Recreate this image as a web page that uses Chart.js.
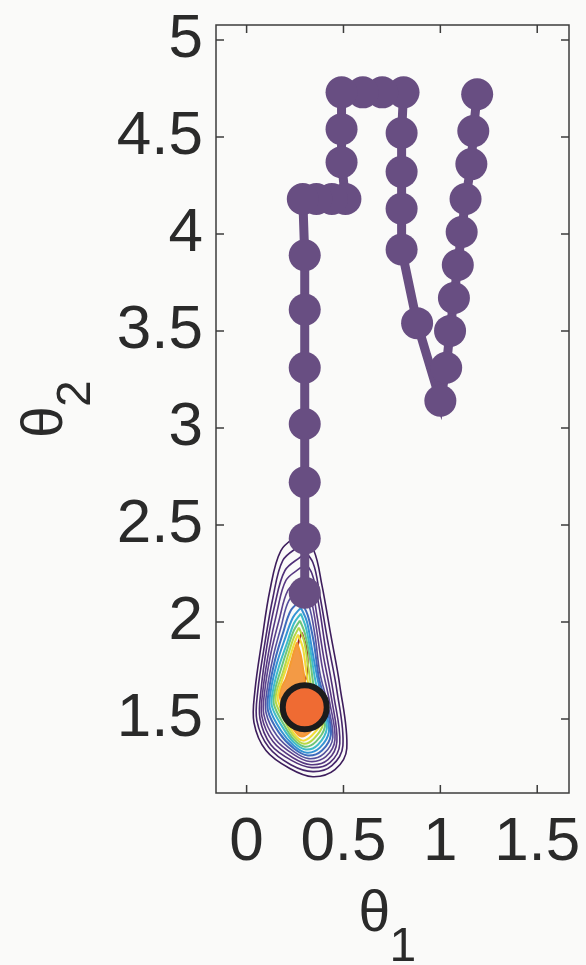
<!DOCTYPE html>
<html>
<head>
<meta charset="utf-8">
<script src="https://cdn.jsdelivr.net/npm/chart.js@4.4.1/dist/chart.umd.min.js"></script>
<style>
  html, body { margin: 0; padding: 0; background: #fafaf9; overflow: hidden; }
  canvas { display: block; }
</style>
</head>
<body>
<canvas id="c" width="586" height="965"></canvas>
<script>
// Axis limits and tick values
const xRange = [-0.158, 1.664];
const yRange = [1.118, 5.077];
const xTicks = [0, 0.5, 1, 1.5];
const yTicks = [1.5, 2, 2.5, 3, 3.5, 4, 4.5, 5];

// Sampler trajectory (theta1, theta2)
const pathTheta1 = [1.19, 1.17, 1.16, 1.13, 1.11, 1.09, 1.07, 1.05, 1.03, 1.00,
                    0.88, 0.80, 0.80, 0.80, 0.80, 0.81, 0.70, 0.60, 0.49, 0.49,
                    0.49, 0.51, 0.44, 0.36, 0.29, 0.30, 0.30, 0.30, 0.30, 0.30,
                    0.30, 0.30];
const pathTheta2 = [4.72, 4.53, 4.36, 4.18, 4.01, 3.84, 3.67, 3.50, 3.31, 3.14,
                    3.54, 3.92, 4.13, 4.32, 4.52, 4.73, 4.73, 4.73, 4.73, 4.54,
                    4.37, 4.18, 4.18, 4.18, 4.18, 3.89, 3.61, 3.31, 3.02, 2.72,
                    2.43, 2.15];

// Posterior mode
const modeTheta1 = [0.30];
const modeTheta2 = [1.56];

// Posterior density contours, outermost first
const contourTheta1 = [
  [0.275,0.347,0.389,0.435,0.481,0.517,0.456,0.342,0.223,0.100,0.038,0.043,0.079,0.120,0.177],
  [0.275,0.342,0.378,0.420,0.466,0.497,0.440,0.342,0.228,0.115,0.053,0.058,0.094,0.136,0.187],
  [0.280,0.337,0.373,0.409,0.450,0.481,0.430,0.337,0.234,0.125,0.069,0.074,0.105,0.146,0.198],
  [0.280,0.332,0.363,0.399,0.440,0.466,0.420,0.332,0.239,0.136,0.079,0.084,0.115,0.156,0.203],
  [0.280,0.327,0.358,0.389,0.430,0.456,0.409,0.327,0.244,0.146,0.089,0.094,0.125,0.167,0.213],
  [0.280,0.322,0.353,0.378,0.420,0.445,0.399,0.322,0.244,0.156,0.100,0.105,0.136,0.177,0.218],
  [0.280,0.316,0.347,0.373,0.414,0.435,0.389,0.316,0.244,0.167,0.110,0.115,0.146,0.187,0.228],
  [0.280,0.311,0.337,0.368,0.404,0.425,0.378,0.311,0.244,0.177,0.120,0.125,0.156,0.198,0.239],
  [0.280,0.306,0.332,0.358,0.394,0.414,0.368,0.306,0.244,0.187,0.131,0.136,0.167,0.208,0.244],
  [0.275,0.301,0.327,0.347,0.384,0.404,0.358,0.301,0.244,0.192,0.141,0.146,0.177,0.213,0.244],
  [0.270,0.296,0.316,0.337,0.373,0.394,0.347,0.296,0.244,0.198,0.151,0.156,0.187,0.218,0.244],
  [0.265,0.290,0.306,0.327,0.363,0.384,0.337,0.290,0.244,0.203,0.162,0.167,0.192,0.223,0.244],
  [0.260,0.280,0.296,0.316,0.352,0.368,0.327,0.285,0.244,0.208,0.172,0.177,0.203,0.228,0.244],
  [0.254,0.270,0.285,0.306,0.337,0.352,0.316,0.280,0.244,0.213,0.187,0.192,0.213,0.234,0.244],
  [0.285,0.306,0.316,0.306,0.275,0.254,0.254,0.270]
];
const contourTheta2 = [
  [2.456,2.368,2.188,1.930,1.672,1.347,1.238,1.202,1.244,1.337,1.481,1.646,1.904,2.162,2.368],
  [2.394,2.306,2.136,1.894,1.646,1.362,1.259,1.228,1.264,1.352,1.491,1.646,1.889,2.126,2.317],
  [2.337,2.250,2.085,1.852,1.620,1.372,1.275,1.249,1.285,1.367,1.502,1.646,1.878,2.090,2.265],
  [2.281,2.193,2.033,1.811,1.595,1.383,1.290,1.264,1.300,1.383,1.512,1.646,1.852,2.048,2.214],
  [2.224,2.136,1.981,1.775,1.579,1.393,1.305,1.280,1.316,1.398,1.522,1.646,1.837,2.007,2.162],
  [2.167,2.085,1.930,1.739,1.569,1.404,1.321,1.295,1.331,1.414,1.533,1.646,1.816,1.971,2.110],
  [2.110,2.033,1.894,1.713,1.558,1.419,1.337,1.311,1.347,1.429,1.543,1.646,1.801,1.940,2.059],
  [2.074,2.002,1.863,1.698,1.553,1.434,1.352,1.326,1.362,1.440,1.553,1.646,1.785,1.914,2.023],
  [2.043,1.971,1.837,1.682,1.548,1.450,1.367,1.342,1.378,1.455,1.564,1.646,1.770,1.889,1.992],
  [2.007,1.940,1.811,1.667,1.543,1.460,1.383,1.357,1.393,1.471,1.574,1.646,1.755,1.868,1.956],
  [1.971,1.904,1.785,1.651,1.538,1.471,1.398,1.372,1.409,1.486,1.584,1.646,1.739,1.842,1.920],
  [1.935,1.868,1.760,1.636,1.533,1.481,1.414,1.388,1.424,1.502,1.595,1.646,1.723,1.816,1.883],
  [1.894,1.827,1.729,1.615,1.527,1.491,1.434,1.409,1.445,1.522,1.610,1.656,1.708,1.790,1.847],
  [1.842,1.780,1.698,1.600,1.527,1.502,1.455,1.434,1.466,1.538,1.620,1.667,1.718,1.770,1.811],
  [1.945,1.878,1.790,1.708,1.677,1.739,1.827,1.904]
];

// Styling
const contourColors = ['#3d1d5c','#46266b','#4f2f78','#573882','#5c428d','#56519e','#3e6cbd',
                       '#3594d4','#3fbcc8','#6cc67a','#b6d847','#f1dc36','#f59a30','#e5562a','#9c2222'];
// inner levels are shaded so the peak reads as a solid orange-red core
const contourFills = [null, null, null, null, null, null, null,
                      null, null, null, null, null, '#f39a45', '#e8623a', null];
const pathColor = '#684e82';
const textColor = '#2a2a2a';
const axisColor = '#3c3c3c';
const tickFont = { family: '"Liberation Sans", Arial, sans-serif', size: 62, lineHeight: 1.2 };

const toPoints = (xs, ys) => xs.map((x, i) => ({ x, y: ys[i] }));

const contourSets = contourTheta1.map((xs, k) => {
  const pts = toPoints(xs, contourTheta2[k]);
  pts.push(pts[0]);
  return {
    data: pts,
    showLine: true,
    borderColor: contourColors[k],
    borderWidth: k < 6 ? 1.6 : 2,
    pointRadius: 0,
    tension: 0.35,
    fill: contourFills[k] ? 'shape' : false,
    backgroundColor: contourFills[k] || 'transparent',
    order: 2
  };
});

const datasets = [
  {
    data: toPoints(modeTheta1, modeTheta2),
    pointRadius: 22,
    pointBorderWidth: 6,
    pointBorderColor: '#1c1c1c',
    pointBackgroundColor: '#ef6b33',
    showLine: false,
    order: 0
  },
  {
    data: toPoints(pathTheta1, pathTheta2),
    showLine: true,
    borderColor: pathColor,
    borderWidth: 9,
    pointRadius: 16,
    pointBorderWidth: 0,
    pointBackgroundColor: pathColor,
    pointBorderColor: pathColor,
    tension: 0,
    order: 1
  },
  ...contourSets
];

// Box, inward tick marks and subscripted axis titles
const framePlugin = {
  id: 'frame',
  afterDraw(chart) {
    const { ctx, chartArea: a, scales: { x, y } } = chart;
    ctx.save();
    ctx.strokeStyle = axisColor;
    ctx.lineWidth = 1.5;
    ctx.strokeRect(a.left, a.top, a.right - a.left, a.bottom - a.top);
    ctx.beginPath();
    const tl = 8;
    xTicks.forEach(v => {
      const px = x.getPixelForValue(v);
      ctx.moveTo(px, a.bottom); ctx.lineTo(px, a.bottom - tl);
      ctx.moveTo(px, a.top); ctx.lineTo(px, a.top + tl);
    });
    yTicks.forEach(v => {
      const py = y.getPixelForValue(v);
      ctx.moveTo(a.left, py); ctx.lineTo(a.left + tl, py);
      ctx.moveTo(a.right, py); ctx.lineTo(a.right - tl, py);
    });
    ctx.stroke();

    ctx.fillStyle = textColor;
    ctx.textAlign = 'left';
    ctx.textBaseline = 'alphabetic';
    const big = '57px "Liberation Sans", Arial, sans-serif';
    const small = '48px "Liberation Sans", Arial, sans-serif';
    const cx = (a.left + a.right) / 2;
    const cy = (a.top + a.bottom) / 2;

    // theta_1 under the x axis
    ctx.font = big;
    ctx.fillText('θ', cx - 34, a.bottom + 138);
    ctx.font = small;
    ctx.fillText('1', cx - 3, a.bottom + 168);

    // theta_2 left of the y axis, rotated
    ctx.translate(62, cy + 29);
    ctx.rotate(-Math.PI / 2);
    ctx.font = big;
    ctx.fillText('θ', 0, 0);
    ctx.font = small;
    ctx.fillText('2', 31, 28);
    ctx.restore();
  }
};

new Chart(document.getElementById('c'), {
  type: 'scatter',
  data: { datasets },
  options: {
    responsive: false,
    animation: false,
    events: [],
    devicePixelRatio: 1,
    layout: { autoPadding: false, padding: { top: 25, right: 17, left: 0, bottom: 0 } },
    plugins: { legend: { display: false }, tooltip: { enabled: false } },
    scales: {
      x: {
        type: 'linear',
        min: xRange[0], max: xRange[1],
        afterBuildTicks: s => { s.ticks = xTicks.map(v => ({ value: v })); },
        afterFit: s => { s.height = 172; s.paddingLeft = 0; s.paddingRight = 0; },
        grid: { display: false, drawTicks: false },
        border: { display: false },
        ticks: { color: textColor, font: tickFont, padding: 13, maxRotation: 0,
                 callback: v => String(v) }
      },
      y: {
        type: 'linear',
        min: yRange[0], max: yRange[1],
        afterBuildTicks: s => { s.ticks = yTicks.map(v => ({ value: v })); },
        afterFit: s => { s.width = 216; s.paddingTop = 0; s.paddingBottom = 0; },
        grid: { display: false, drawTicks: false },
        border: { display: false },
        ticks: { color: textColor, font: tickFont, padding: 13,
                 callback: v => String(v) }
      }
    }
  },
  plugins: [framePlugin,
    { id: 'bg', beforeDraw(c) { const g = c.ctx; g.save(); g.fillStyle = '#fafaf9';
      g.fillRect(0, 0, c.width, c.height); g.restore(); } }]
});
</script>
</body>
</html>
